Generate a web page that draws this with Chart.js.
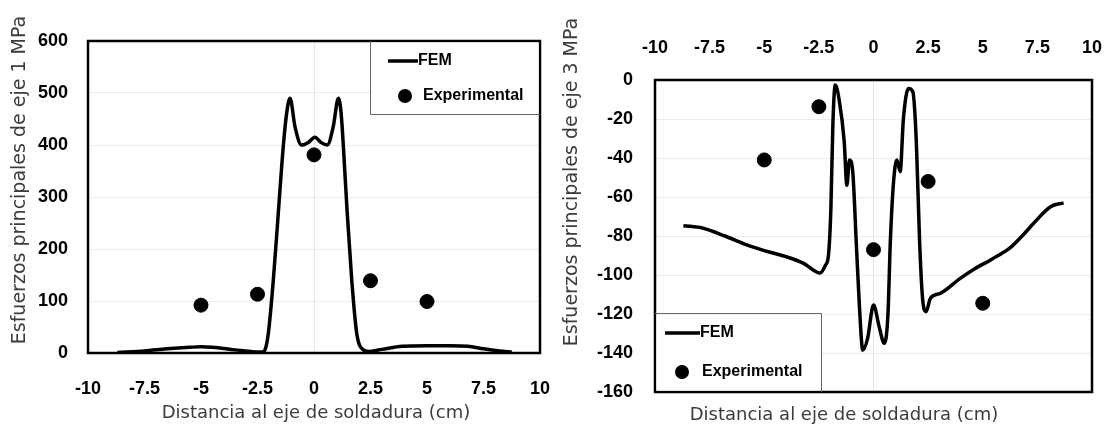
<!DOCTYPE html>
<html>
<head>
<meta charset="utf-8">
<script src="https://cdn.jsdelivr.net/npm/chart.js@4/dist/chart.umd.min.js"></script>
<style>
  html, body { margin: 0; padding: 0; background: #fff; }
  #wrap { position: relative; width: 1107px; height: 427px; }
  .box { position: absolute; top: 0; height: 427px; }
  #box1 { left: 0; width: 555px; }
  #box2 { left: 555px; width: 552px; }
</style>
</head>
<body>
<div id="wrap">
  <div class="box" id="box1"><canvas id="chart1"></canvas></div>
  <div class="box" id="box2"><canvas id="chart2"></canvas></div>
</div>
<script>
// left chart: principal stress, axis 1 (MPa)
const fem1X = [-8.7, -7.5, -6.5, -5.5, -5, -4.5, -3.5, -2.8, -2.5, -2.3, -2.17, -2.02, -1.8, -1.58, -1.36, -1.21, -1.06, -0.84, -0.55, -0.25, 0.04, 0.3, 0.59, 0.85, 1.08, 1.2, 1.3, 1.47, 1.67, 1.89, 2.18, 2.4, 3, 3.9, 5, 6, 6.8, 7.5, 8.2, 8.75];
const fem1Y = [1, 4, 8, 11, 12, 11, 6, 3, 2, 2, 6, 38, 140, 269, 397, 461, 490, 435, 400, 405, 415, 405, 400, 435, 490, 461, 397, 269, 140, 38, 6, 3, 7, 13, 14, 14, 13, 8, 4, 2];
const exp1X = [-5, -2.5, 0, 2.5, 5];
const exp1Y = [92, 113, 381, 139, 99];

// right chart: principal stress, axis 3 (MPa)
const fem3X = [-8.7, -7.8, -6.8, -5.8, -5.0, -4.0, -3.2, -2.44, -2.2, -2.06, -1.95, -1.86, -1.75, -1.56, -1.34, -1.22, -1.10, -0.95, -0.79, -0.64, -0.49, -0.27, 0.0, 0.27, 0.49, 0.66, 0.77, 0.92, 1.07, 1.22, 1.37, 1.60, 1.80, 1.96, 2.11, 2.26, 2.41, 2.60, 3.06, 3.97, 4.6, 5.4, 6.26, 6.8, 7.33, 8.1, 8.7];
const fem3Y = [-74.7, -76, -80, -84.6, -87.5, -90.6, -94, -99, -95, -89.7, -65.8, -23, -2.6, -11, -31.6, -54, -41, -47, -83, -117, -138.5, -132.5, -115.4, -127, -135, -120.5, -83, -52, -41, -47, -19.7, -4.3, -6, -31.6, -83, -113.7, -118.8, -112, -109.4, -101.7, -97, -92, -86, -80, -73.5, -65, -63];
const exp3X = [-5, -2.5, 0, 2.5, 5];
const exp3Y = [-41, -13.7, -87, -52, -114.5];

const seriesNames = ['FEM', 'Experimental'];
const xTitle = 'Distancia al eje de soldadura (cm)';
const yTitle1 = 'Esfuerzos principales de eje 1 MPa';
const yTitle3 = 'Esfuerzos principales de eje 3 MPa';

const boldFamily = "'Liberation Sans', Arial, sans-serif";
const tickFont = { family: boldFamily, weight: 'bold', size: 18 };
const xTitleFont = "18px 'DejaVu Sans', sans-serif";
const yTitleFont = "19px 'DejaVu Sans', sans-serif";

function pts(xs, ys) {
    return xs.map((x, i) => ({ x: x, y: ys[i] }));
}

function makeData(fx, fy, ex, ey) {
    return {
        datasets: [
            {
                label: seriesNames[0],
                data: pts(fx, fy),
                showLine: true,
                borderColor: '#000',
                borderWidth: 3.5,
                pointRadius: 0,
                cubicInterpolationMode: 'monotone'
            },
            {
                label: seriesNames[1],
                data: pts(ex, ey),
                showLine: false,
                backgroundColor: '#000',
                borderColor: '#000',
                pointRadius: 7
            }
        ]
    };
}

// frame around the plot, boxed legend and axis titles
const decor = {
    id: 'decor',
    afterDraw(chart, args, opts) {
        const ctx = chart.ctx;
        const a = chart.chartArea;
        ctx.save();

        ctx.strokeStyle = '#000';
        ctx.lineWidth = 2.5;
        ctx.strokeRect(a.left, a.top, a.right - a.left, a.bottom - a.top);

        const lg = opts.legend;
        const bx = lg.corner === 'tr' ? a.right - lg.w : a.left;
        const by = lg.corner === 'tr' ? a.top : a.bottom - lg.h;
        ctx.fillStyle = '#fff';
        ctx.fillRect(bx + 1.5, by + 1.5, lg.w - 3, lg.h - 3);
        ctx.strokeStyle = '#666';
        ctx.lineWidth = 1;
        ctx.beginPath();
        if (lg.corner === 'tr') {
            ctx.moveTo(bx + 0.5, by);
            ctx.lineTo(bx + 0.5, by + lg.h - 0.5);
            ctx.lineTo(a.right, by + lg.h - 0.5);
        } else {
            ctx.moveTo(bx, by + 0.5);
            ctx.lineTo(bx + lg.w - 0.5, by + 0.5);
            ctx.lineTo(bx + lg.w - 0.5, a.bottom);
        }
        ctx.stroke();

        const ds = chart.data.datasets;
        ctx.font = 'bold 16px ' + boldFamily;
        ctx.textBaseline = 'middle';
        ctx.textAlign = 'left';
        ctx.fillStyle = '#000';
        ctx.strokeStyle = ds[0].borderColor;
        ctx.lineWidth = ds[0].borderWidth;
        ctx.beginPath();
        ctx.moveTo(bx + lg.lineX0, by + lg.row1);
        ctx.lineTo(bx + lg.lineX1, by + lg.row1);
        ctx.stroke();
        ctx.fillText(ds[0].label, bx + lg.lineX1, by + lg.row1);
        ctx.beginPath();
        ctx.arc(bx + lg.dotX, by + lg.row2, ds[1].pointRadius, 0, Math.PI * 2);
        ctx.fill();
        ctx.fillText(ds[1].label, bx + lg.textX2, by + lg.row2);

        ctx.fillStyle = '#3c3c3c';
        ctx.textAlign = 'center';
        ctx.font = xTitleFont;
        ctx.fillText(opts.xTitle.text, opts.xTitle.x, opts.xTitle.y);
        ctx.font = yTitleFont;
        ctx.translate(opts.yTitle.x, opts.yTitle.y);
        ctx.rotate(-Math.PI / 2);
        ctx.fillText(opts.yTitle.text, 0, 0);
        ctx.restore();
    }
};

const gridX = {
    drawTicks: false,
    tickLength: 0,
    color: c => (c.tick && c.tick.value === 0) ? '#e4e4e4' : 'rgba(0,0,0,0)'
};
const gridY = { drawTicks: false, tickLength: 0, color: '#ececec' };

function fixX(h) {
    return s => { s.height = h; s.paddingLeft = 0; s.paddingRight = 0; };
}

new Chart(document.getElementById('chart1'), {
    type: 'scatter',
    data: makeData(fem1X, fem1Y, exp1X, exp1Y),
    plugins: [decor],
    options: {
        responsive: true,
        maintainAspectRatio: false,
        animation: false,
        layout: { padding: { top: 41, right: 15, left: 0, bottom: 0 } },
        plugins: {
            legend: { display: false },
            tooltip: { enabled: false },
            decor: {
                legend: { corner: 'tr', w: 170, h: 74, lineX0: 18, lineX1: 48, row1: 20, dotX: 35, row2: 55, textX2: 53 },
                xTitle: { text: xTitle, x: 316, y: 413 },
                yTitle: { text: yTitle1, x: 20, y: 180 }
            }
        },
        scales: {
            x: {
                type: 'linear', position: 'bottom', min: -10, max: 10,
                border: { display: false },
                grid: gridX,
                ticks: { stepSize: 2.5, color: '#000', font: tickFont, padding: 25, maxRotation: 0, callback: v => String(v) },
                afterFit: fixX(74)
            },
            y: {
                min: 0, max: 600,
                border: { display: false },
                grid: gridY,
                ticks: { stepSize: 100, color: '#000', font: tickFont, padding: 20 },
                afterFit: s => { s.width = 88; }
            }
        }
    }
});

new Chart(document.getElementById('chart2'), {
    type: 'scatter',
    data: makeData(fem3X, fem3Y, exp3X, exp3Y),
    plugins: [decor],
    options: {
        responsive: true,
        maintainAspectRatio: false,
        animation: false,
        layout: { padding: { top: 0, right: 15, left: 0, bottom: 0 } },
        plugins: {
            legend: { display: false },
            tooltip: { enabled: false },
            decor: {
                legend: { corner: 'bl', w: 167, h: 79, lineX0: 10, lineX1: 45, row1: 20, dotX: 27, row2: 59, textX2: 47 },
                xTitle: { text: xTitle, x: 289, y: 415 },
                yTitle: { text: yTitle3, x: 17, y: 182 }
            }
        },
        scales: {
            x: {
                type: 'linear', position: 'top', min: -10, max: 10,
                border: { display: false },
                grid: gridX,
                ticks: { stepSize: 2.5, color: '#000', font: tickFont, padding: 21, maxRotation: 0, callback: v => String(v) },
                afterFit: fixX(80)
            },
            x2: {
                type: 'linear', axis: 'x', position: 'bottom', min: -10, max: 10,
                border: { display: false },
                grid: { display: false },
                ticks: { display: false },
                afterFit: fixX(35)
            },
            y: {
                min: -160, max: 0,
                border: { display: false },
                grid: gridY,
                ticks: { stepSize: 20, color: '#000', font: tickFont, padding: 22 },
                afterFit: s => { s.width = 100; }
            }
        }
    }
});
</script>
</body>
</html>
